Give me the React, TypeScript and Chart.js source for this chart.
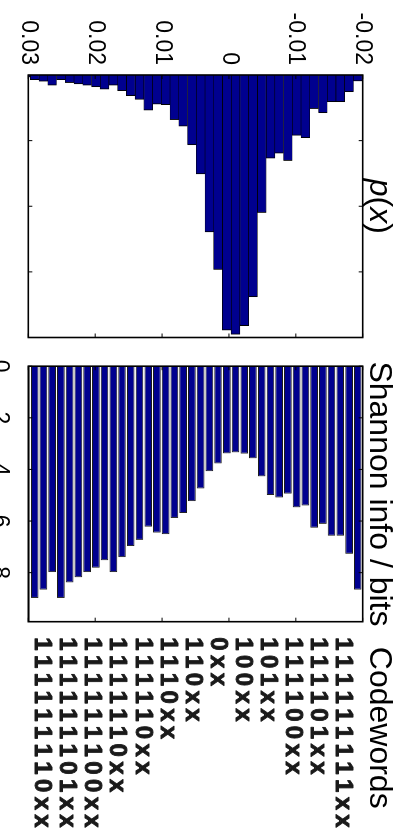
import React, { useEffect, useRef } from "react";
import { Chart, registerables } from "chart.js";

Chart.register(...registerables);

// ---------------- data ----------------
// histogram bin centres of x (ascending)
const binCenters = [
  -0.01926, -0.01796, -0.01665, -0.01534, -0.01404, -0.01273, -0.01143, -0.01012,
  -0.00882, -0.00751, -0.00621, -0.0049, -0.00359, -0.00229, -0.00098, 0.00032,
  0.00163, 0.00293, 0.00424, 0.00554, 0.00685, 0.00815, 0.00946, 0.01077,
  0.01207, 0.01338, 0.01468, 0.01599, 0.01729, 0.0186, 0.0199, 0.02121,
  0.02252, 0.02382, 0.02513, 0.02643, 0.02774, 0.02904, 0.03035,
];

// p(x) for each bin
const probabilities = [
  0.0023, 0.0064, 0.0102, 0.0102, 0.0144, 0.0128, 0.0239, 0.023,
  0.0326, 0.0298, 0.0317, 0.0524, 0.0845, 0.0955, 0.0988, 0.0972,
  0.0741, 0.0598, 0.0377, 0.0266, 0.0195, 0.017, 0.0113, 0.0111,
  0.0134, 0.0093, 0.0079, 0.006, 0.0039, 0.0054, 0.0045, 0.0039,
  0.0034, 0.0029, 0.0018, 0.0039, 0.0024, 0.0018, 0.0008,
];

// Shannon information (bits) for each bin
const shannonBits = [
  8.66, 7.27, 6.57, 6.57, 6.11, 6.26, 5.4, 5.47,
  4.94, 5.09, 4.99, 4.27, 3.57, 3.39, 3.34, 3.38,
  3.77, 4.07, 4.74, 5.23, 5.69, 5.88, 6.51, 6.45,
  6.22, 6.73, 6.97, 7.4, 7.98, 7.52, 7.81, 7.98,
  8.18, 8.38, 8.98, 7.98, 8.66, 8.98, 10.3,
];

// code words, listed from the -0.02 side to the +0.03 side
const codewords = [
  "111111111xx", "111101xx", "111100xx", "101xx", "100xx", "0xx", "110xx",
  "1110xx", "111110xx", "1111110xx", "111111100xx", "111111101xx", "111111110xx",
];

const xTickValues = [-0.02, -0.01, 0, 0.01, 0.02, 0.03];
const xTickLabels = ["-0.02", "-0.01", "0", "0.01", "0.02", "0.03"];
const pTickValues = [0.025, 0.05, 0.075];
const bitTickValues = [0, 2, 4, 6, 8];
const bitTickLabels = ["0", "2", "4", "6", "8"];

// ---------------- styling ----------------
const FONT = '"Liberation Sans", Arial, Helvetica, sans-serif';
const BAR_FILL = "#00008f";
const TITLE_BASELINE = 39;

Chart.defaults.font.family = FONT;

function makeFramePlugin(xTicks: number[], yTicks: number[]) {
  return {
    id: "frameTicks",
    afterDatasetsDraw(chart: any) {
      const { ctx, chartArea: a } = chart;
      const xs = chart.scales.x;
      const ys = chart.scales.y;
      const tl = 4;
      ctx.save();
      ctx.strokeStyle = "#000";
      ctx.lineWidth = 1;
      ctx.beginPath();
      for (const v of xTicks) {
        const px = xs.getPixelForValue(v);
        ctx.moveTo(px, a.top);
        ctx.lineTo(px, a.top + tl);
        ctx.moveTo(px, a.bottom);
        ctx.lineTo(px, a.bottom - tl);
      }
      for (const v of yTicks) {
        const py = ys.getPixelForValue(v);
        ctx.moveTo(a.left, py);
        ctx.lineTo(a.left + tl, py);
        ctx.moveTo(a.right, py);
        ctx.lineTo(a.right - tl, py);
      }
      ctx.stroke();
      ctx.lineWidth = 1.6;
      ctx.strokeRect(a.left, a.top, a.right - a.left, a.bottom - a.top);
      ctx.restore();
    },
  };
}

const titleAPlugin = {
  id: "titleA",
  afterDraw(chart: any) {
    const { ctx, chartArea: a } = chart;
    const parts = [
      { t: "p", f: `italic 32px ${FONT}` },
      { t: "(", f: `32px ${FONT}` },
      { t: "x", f: `italic 32px ${FONT}` },
      { t: ")", f: `32px ${FONT}` },
    ];
    ctx.save();
    ctx.fillStyle = "#000";
    ctx.textBaseline = "alphabetic";
    ctx.textAlign = "left";
    let total = 0;
    const widths = parts.map((p) => {
      ctx.font = p.f;
      const w = ctx.measureText(p.t).width;
      total += w;
      return w;
    });
    let x = (a.left + a.right) / 2 - total / 2;
    parts.forEach((p, i) => {
      ctx.font = p.f;
      ctx.fillText(p.t, x, TITLE_BASELINE);
      x += widths[i];
    });
    ctx.restore();
  },
};

const titleBPlugin = {
  id: "titleB",
  afterDraw(chart: any) {
    const { ctx, chartArea: a } = chart;
    ctx.save();
    ctx.fillStyle = "#000";
    ctx.textBaseline = "alphabetic";
    ctx.textAlign = "center";
    ctx.font = `32px ${FONT}`;
    ctx.fillText("Shannon info / bits", (a.left + a.right) / 2, TITLE_BASELINE);
    ctx.fillText("Codewords", a.right + 106, TITLE_BASELINE);

    // code words, one row each, characters on a fixed pitch
    ctx.font = `bold 24px ${FONT}`;
    ctx.fillStyle = "#1a1a1a";
    ctx.strokeStyle = "#1a1a1a";
    ctx.lineWidth = 0.9;
    ctx.lineJoin = "round";
    const startX = a.right + 22.3;
    const adv = 17.7;
    const rowTop = a.top + 17.7;
    const rowPitch = 25.1;
    codewords.forEach((w, j) => {
      const yb = rowTop + j * rowPitch + 8.6;
      for (let i = 0; i < w.length; i++) {
        ctx.fillText(w[i], startX + i * adv, yb);
        ctx.strokeText(w[i], startX + i * adv, yb);
      }
    });
    ctx.restore();
  },
};

export default function App() {
  const refA = useRef<HTMLCanvasElement>(null);
  const refB = useRef<HTMLCanvasElement>(null);

  useEffect(() => {
    const common = {
      animation: false as const,
      responsive: false,
      devicePixelRatio: 1,
      events: [] as any[],
      indexAxis: "y" as const,
    };

    const chartA = new Chart(refA.current!, {
      type: "bar",
      data: {
        datasets: [
          {
            data: binCenters.map((c, i) => ({ x: probabilities[i], y: c })),
            backgroundColor: BAR_FILL,
            borderColor: "#000",
            borderWidth: { top: 0.6, bottom: 0.6, right: 1, left: 0 } as any,
            borderSkipped: "start",
            barPercentage: 1,
            categoryPercentage: 1,
            clip: 0,
          } as any,
        ],
      },
      options: {
        ...common,
        layout: { padding: { top: 46.3, bottom: 28.3, right: 7.5, left: 0 } },
        plugins: { legend: { display: false }, tooltip: { enabled: false }, title: { display: false } },
        scales: {
          x: { type: "linear", min: 0, max: 0.1, display: false },
          y: {
            type: "linear",
            min: -0.02,
            max: 0.03,
            reverse: true,
            offset: false,
            grid: { display: false, drawTicks: false, offset: false },
            border: { display: false },
            afterBuildTicks: (s: any) => {
              s.ticks = xTickValues.map((value) => ({ value }));
            },
            afterFit: (s: any) => {
              s.width = 75;
            },
            ticks: {
              padding: 10,
              color: "#000",
              font: { size: 23, family: FONT },
              autoSkip: false,
              callback: (_v: any, i: number) => xTickLabels[i],
            },
          },
        },
      } as any,
      plugins: [makeFramePlugin(pTickValues, xTickValues), titleAPlugin],
    });

    const chartB = new Chart(refB.current!, {
      type: "bar",
      data: {
        datasets: [
          {
            data: binCenters.map((c, i) => ({ x: shannonBits[i], y: c })),
            backgroundColor: BAR_FILL,
            borderColor: "#1c1c1c",
            borderWidth: 1,
            borderSkipped: "start",
            barPercentage: 0.88,
            categoryPercentage: 1,
            clip: 0,
          } as any,
        ],
      },
      options: {
        ...common,
        layout: { padding: { top: 46.3, bottom: 0, right: 209.3, left: 13.3 } },
        plugins: { legend: { display: false }, tooltip: { enabled: false }, title: { display: false } },
        scales: {
          x: {
            type: "linear",
            min: 0,
            max: 9.9,
            grid: { display: false, drawTicks: false },
            border: { display: false },
            afterBuildTicks: (s: any) => {
              s.ticks = bitTickValues.map((value) => ({ value }));
            },
            afterFit: (s: any) => {
              s.height = 28.3;
            },
            ticks: {
              padding: 14.8,
              color: "#000",
              maxRotation: 0,
              minRotation: 0,
              autoSkip: false,
              font: { size: 23, family: FONT },
              callback: (_v: any, i: number) => bitTickLabels[i],
            },
          },
          y: {
            type: "linear",
            min: -0.02,
            max: 0.03,
            reverse: true,
            offset: false,
            display: false,
            grid: { offset: false },
          },
        },
      } as any,
      plugins: [makeFramePlugin(bitTickValues, xTickValues), titleBPlugin],
    });

    return () => {
      chartA.destroy();
      chartB.destroy();
    };
  }, []);

  return (
    <div
      style={{
        position: "fixed",
        left: 0,
        top: 0,
        width: 409,
        height: 831,
        overflow: "hidden",
        background: "#fff",
      }}
    >
      <div
        style={{
          position: "absolute",
          left: 0,
          top: 0,
          width: 831,
          height: 409,
          transformOrigin: "0 0",
          transform: "translate(409px, 0px) rotate(90deg)",
        }}
      >
        <canvas
          ref={refA}
          width={345}
          height={409}
          style={{ position: "absolute", left: 0, top: 0, width: 345, height: 409 }}
        />
        <canvas
          ref={refB}
          width={486}
          height={409}
          style={{ position: "absolute", left: 345, top: 0, width: 486, height: 409 }}
        />
      </div>
    </div>
  );
}
